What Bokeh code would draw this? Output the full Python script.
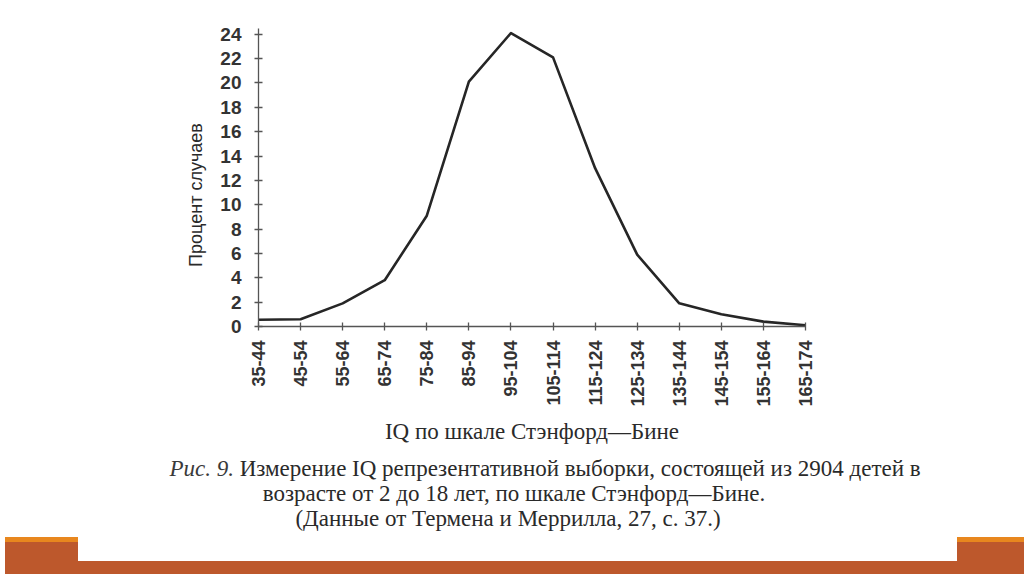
import numpy as np
from bokeh.plotting import figure
from bokeh.models import Range1d, FixedTicker, Div
from bokeh.layouts import column
from bokeh.embed import file_html
from bokeh.resources import INLINE

categories = ["35-44", "45-54", "55-64", "65-74", "75-84", "85-94", "95-104",
              "105-114", "115-124", "125-134", "135-144", "145-154", "155-164", "165-174"]
percent = [0.55, 0.6, 1.9, 3.8, 9.1, 20.1, 24.1, 22.1, 13.0, 5.9, 1.9, 1.0, 0.4, 0.1]
y_ticks = list(range(0, 25, 2))
x_label = "IQ по шкале Стэнфорд—Бине"
y_label = "Процент случаев"
caption_head = "Рис. 9."
caption_lines = ["Измерение IQ репрезентативной выборки, состоящей из 2904 детей в",
                 "возрасте от 2 до 18 лет, по шкале Стэнфорд—Бине.",
                 "(Данные от Термена и Меррилла, 27, с. 37.)"]

xs = list(range(len(categories)))

pA = figure(width=1024, height=450, x_range=Range1d(0, len(categories) - 1),
            y_range=Range1d(0, 24.47), output_backend="svg", toolbar_location=None,
            min_border_left=258, min_border_right=219, min_border_top=28, min_border_bottom=124)
pA.grid.visible = False
pA.outline_line_color = None
pA.background_fill_color = "white"
pA.border_fill_color = "white"

pA.line(xs, percent, line_width=2.6, line_color="#262626", line_join="round")

xa = pA.xaxis[0]
xa.ticker = FixedTicker(ticks=xs)
xa.major_label_overrides = {i: c for i, c in enumerate(categories)}
xa.major_label_orientation = np.pi / 2
xa.major_label_text_font = "Liberation Sans"
xa.major_label_text_font_style = "bold"
xa.major_label_text_font_size = "18px"
xa.major_label_text_color = "#333333"
xa.major_label_standoff = 10
xa.axis_label = x_label
xa.axis_label_text_font = "Liberation Serif"
xa.axis_label_text_font_style = "normal"
xa.axis_label_text_font_size = "23px"
xa.axis_label_text_color = "#2a2a2a"
xa.axis_label_standoff = 9

ya = pA.yaxis[0]
ya.ticker = FixedTicker(ticks=y_ticks)
ya.major_label_text_font = "Liberation Sans"
ya.major_label_text_font_style = "bold"
ya.major_label_text_font_size = "19px"
ya.major_label_text_color = "#333333"
ya.major_label_standoff = 13
# trailing no-break spaces push the visible title a little below the frame centre
ya.axis_label = y_label + "\u00a0" * 7
ya.axis_label_text_font = "Liberation Sans"
ya.axis_label_text_font_style = "normal"
ya.axis_label_text_font_size = "18px"
ya.axis_label_text_color = "#2a2a2a"
ya.axis_label_standoff = 11

for ax in (xa, ya):
    ax.axis_line_color = "#555555"
    ax.axis_line_width = 1.3
    ax.major_tick_line_color = "#555555"
    ax.major_tick_line_width = 1.3
    ax.major_tick_in = 4
    ax.major_tick_out = 4
    ax.minor_tick_line_color = None

serif = "'Liberation Serif', 'Times New Roman', serif"
line_style = "position:absolute;width:1000px;height:28px;line-height:28px;text-align:center;font-size:23px;white-space:nowrap;"
html = f"""
<div style="position:relative;width:1024px;height:124px;overflow:hidden;background:#ffffff;font-family:{serif};color:#2a2a2a;">
  <div style="position:absolute;left:0;top:82px;width:73px;height:5px;background:#E8871E;"></div>
  <div style="position:absolute;left:952px;top:82px;width:72px;height:5px;background:#E8871E;"></div>
  <div style="position:absolute;left:0;top:87px;width:73px;height:37px;background:#BD582C;"></div>
  <div style="position:absolute;left:952px;top:87px;width:72px;height:37px;background:#BD582C;"></div>
  <div style="position:absolute;left:0;top:106px;width:1024px;height:18px;background:#BD582C;"></div>
  <div style="{line_style}left:40px;top:0px;"><i style="color:#3a3a3a;">{caption_head}</i> {caption_lines[0]}</div>
  <div style="{line_style}left:9px;top:25px;">{caption_lines[1]}</div>
  <div style="{line_style}left:3px;top:50px;">{caption_lines[2]}</div>
</div>
"""
div = Div(text=html, width=1024, height=124)

layout = column(pA, div, spacing=0)
open("out.html", "w").write(file_html(layout, INLINE))
